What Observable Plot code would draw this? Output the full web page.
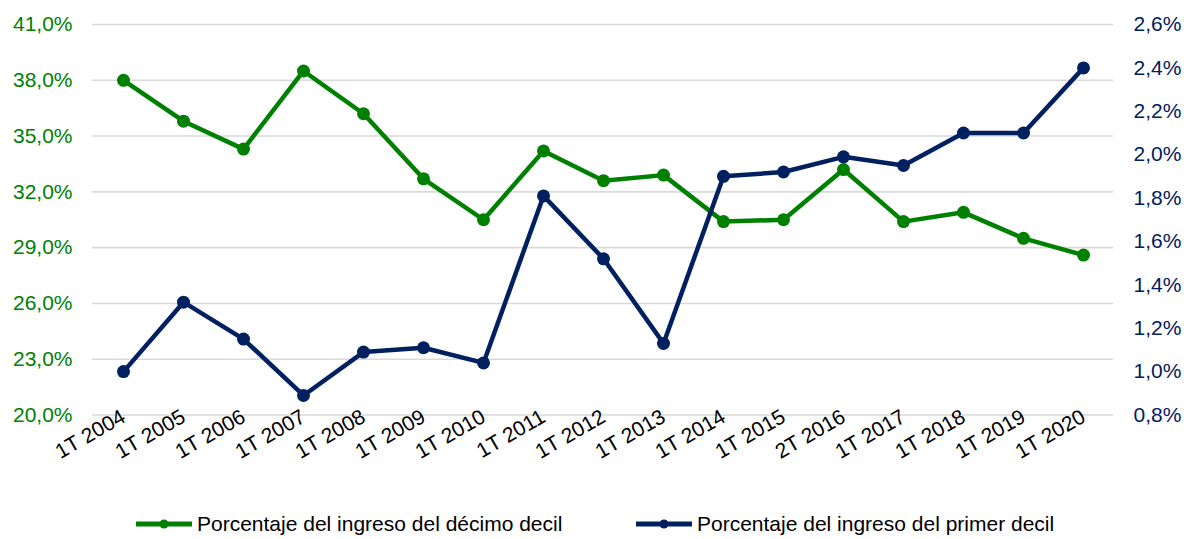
<!DOCTYPE html>
<html>
<head>
<meta charset="utf-8">
<script src="https://cdn.jsdelivr.net/npm/d3@7"></script>
<script src="https://cdn.jsdelivr.net/npm/@observablehq/plot@0.6"></script>
<style>
  html, body { margin: 0; padding: 0; background: #fff; }
  body { width: 1184px; height: 539px; overflow: hidden; font-family: "Liberation Sans", Arial, Helvetica, sans-serif; }
  #legend { position: relative; height: 69px; font-size: 21px; color: #000; }
  .item { position: absolute; top: 19px; height: 69px; display: flex; align-items: center; }
  .item svg { margin-right: 5px; }
</style>
</head>
<body>
<div id="chart"></div>
<div id="legend"></div>
<script>
const categories = ["1T 2004","1T 2005","1T 2006","1T 2007","1T 2008","1T 2009","1T 2010","1T 2011","1T 2012","1T 2013","1T 2014","1T 2015","2T 2016","1T 2017","1T 2018","1T 2019","1T 2020"];
const decimo = [38.0, 35.8, 34.3, 38.5, 36.2, 32.7, 30.5, 34.2, 32.6, 32.9, 30.4, 30.5, 33.2, 30.4, 30.9, 29.5, 28.6];
const primer = [1.00, 1.32, 1.15, 0.89, 1.09, 1.11, 1.04, 1.81, 1.52, 1.13, 1.90, 1.92, 1.99, 1.95, 2.10, 2.10, 2.40];
const leftTicks = [20, 23, 26, 29, 32, 35, 38, 41];
const rightTicks = [0.8, 1.0, 1.2, 1.4, 1.6, 1.8, 2.0, 2.2, 2.4, 2.6];
const seriesNames = ["Porcentaje del ingreso del décimo decil", "Porcentaje del ingreso del primer decil"];

const GREEN = "#008000";
const NAVY = "#002060";

// map right-axis values onto the left scale domain
const L0 = 20, L1 = 41, R0 = 0.8, R1 = 2.6;
const toLeft = v => L0 + (v - R0) * (L1 - L0) / (R1 - R0);
const fromLeft = d => R0 + (d - L0) * (R1 - R0) / (L1 - L0);
const fmt = v => v.toFixed(1).replace(".", ",") + "%";

const dataDecimo = categories.map((c, i) => ({cat: c, v: decimo[i]}));
const dataPrimer = categories.map((c, i) => ({cat: c, v: toLeft(primer[i])}));

const chart = Plot.plot({
  width: 1184,
  height: 470,
  marginTop: 24,
  marginBottom: 55.5,
  marginLeft: 92,
  marginRight: 71,
  style: {fontFamily: '"Liberation Sans", Arial, Helvetica, sans-serif', fontSize: "21px", background: "#fff"},
  x: {type: "point", domain: categories, padding: 0.5},
  y: {domain: [L0, L1]},
  marks: [
    Plot.gridY(leftTicks, {stroke: "#d9d9d9", strokeOpacity: 1, strokeWidth: 1.6}),
    Plot.axisY(leftTicks, {anchor: "left", tickSize: 0, tickPadding: 20, fontSize: 21, fill: GREEN, tickFormat: fmt, label: null}),
    Plot.axisY(rightTicks.map(toLeft), {anchor: "right", tickSize: 0, tickPadding: 20, fontSize: 21, fill: NAVY, tickFormat: d => fmt(fromLeft(d)), label: null}),
    Plot.axisX({tickSize: 0, tickPadding: 0, tickRotate: -30, fontSize: 21, fill: "#000", label: null}),
    Plot.line(dataDecimo, {x: "cat", y: "v", stroke: GREEN, strokeWidth: 4.5}),
    Plot.dot(dataDecimo, {x: "cat", y: "v", r: 6.5, fill: GREEN}),
    Plot.line(dataPrimer, {x: "cat", y: "v", stroke: NAVY, strokeWidth: 4.5}),
    Plot.dot(dataPrimer, {x: "cat", y: "v", r: 6.5, fill: NAVY})
  ]
});
document.getElementById("chart").appendChild(chart);

const legend = document.getElementById("legend");
const items = [{name: seriesNames[0], color: GREEN, left: 136}, {name: seriesNames[1], color: NAVY, left: 636}];
for (const it of items) {
  const div = document.createElement("div");
  div.className = "item";
  div.style.left = it.left + "px";
  div.innerHTML = `<svg width="56" height="14"><line x1="0" x2="56" y1="7" y2="7" stroke="${it.color}" stroke-width="5"/><circle cx="28" cy="7" r="4.5" fill="${it.color}"/></svg><span>${it.name}</span>`;
  legend.appendChild(div);
}
</script>
</body>
</html>
